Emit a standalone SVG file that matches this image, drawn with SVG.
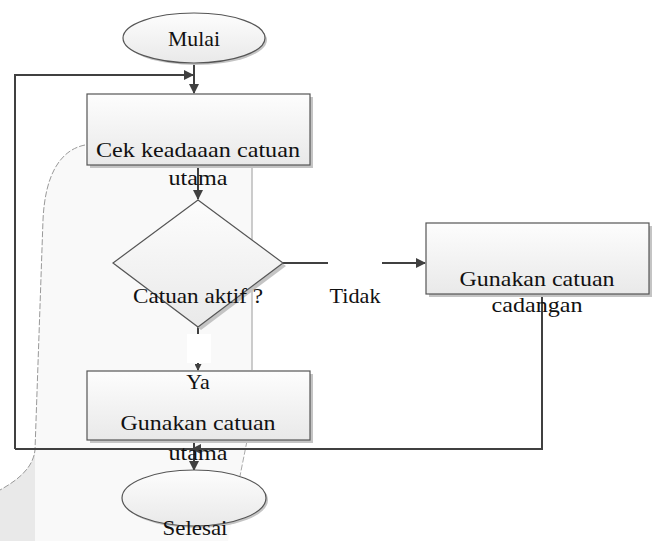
<svg xmlns="http://www.w3.org/2000/svg" width="659" height="541" viewBox="0 0 659 541">
<defs>
<linearGradient id="g" x1="0" y1="0" x2="0" y2="1"><stop offset="0" stop-color="#fdfdfd"/><stop offset="1" stop-color="#e9e9e9"/></linearGradient>
<marker id="a" markerWidth="10" markerHeight="10" refX="9" refY="5" orient="auto" markerUnits="userSpaceOnUse" viewBox="0 0 10 10"><path d="M0,0 L10,5 L0,10 Z" fill="#404040"/></marker>
<marker id="s" markerWidth="7" markerHeight="7" refX="6" refY="3.5" orient="auto" markerUnits="userSpaceOnUse" viewBox="0 0 7 7"><path d="M0,0 L7,3.5 L0,7 Z" fill="#404040"/></marker>
</defs>
<style>
.n{fill:url(#g);stroke:#555;stroke-width:1.2}
.sh{fill:#c4c4c4}
.c{fill:none;stroke:#404040;stroke-width:2}
.t{font-family:"Liberation Serif","Times New Roman",serif;font-size:22px;fill:#111;text-anchor:middle}
</style>
<g id="background">
<path d="M85,145 C60,150 45,175 43,220 L35,450 C33,468 18,480 0,490 L0,541 L228,541 L240,478 L247,440 L252,440 L252,165 L85,165 Z" fill="#f9f9f9"/>
<path d="M0,490 C18,480 33,468 35,450 L35,541 L0,541 Z" fill="#e9e9e9"/>
<path d="M85,145 C60,150 45,175 43,220 L35,450 C33,468 18,480 0,490" fill="none" stroke="#999" stroke-width="1" stroke-dasharray="6,2"/>
<path d="M252,165 L252,370" stroke="#bbb" stroke-width="1.5"/>
<path d="M247,441 L240,476" stroke="#aaa" stroke-width="1" stroke-dasharray="6,2"/>
</g>
<g id="connectors">
<line class="c" x1="194" y1="63" x2="194" y2="93" marker-end="url(#a)"/>
<polyline class="c" points="15,449 15,75 193,75" marker-end="url(#a)"/>
<line class="c" x1="198" y1="165" x2="198" y2="199" marker-end="url(#a)"/>
<line class="c" x1="283" y1="263" x2="328" y2="263"/>
<line class="c" x1="382" y1="263" x2="425" y2="263" marker-end="url(#a)"/>
<line class="c" x1="198" y1="327" x2="198" y2="370" stroke-width="1.5" marker-end="url(#s)"/>
<rect x="187" y="334" width="24" height="29" fill="#fff"/>
<polyline class="c" points="542,294 542,449 15,449"/>
<line class="c" x1="215" y1="449" x2="192" y2="449" marker-end="url(#a)"/>
<line class="c" x1="194" y1="440" x2="194" y2="470" marker-end="url(#a)"/>
</g>
<g id="mulai">
<ellipse cx="196" cy="40" rx="71" ry="25" class="sh"/>
<ellipse cx="194" cy="38" rx="71" ry="25" class="n"/>
<text class="t" x="194" y="46" textLength="52" lengthAdjust="spacingAndGlyphs">Mulai</text>
</g>
<g id="cek">
<rect x="90" y="97" width="223" height="71" class="sh"/>
<rect x="87" y="94" width="223" height="71" class="n"/>
<text class="t" x="198" y="157" textLength="204" lengthAdjust="spacingAndGlyphs">Cek keadaaan catuan</text>
<text class="t" x="198" y="185" textLength="59" lengthAdjust="spacingAndGlyphs">utama</text>
</g>
<g id="decision">
<polygon points="198,203 286,266 201,330 116,266" class="sh"/>
<polygon points="198,200 283,263 198,327 113,263" class="n" stroke-width="1"/>
<text class="t" x="198" y="303" textLength="130" lengthAdjust="spacingAndGlyphs">Catuan aktif ?</text>
<text class="t" x="355" y="303" textLength="51" lengthAdjust="spacingAndGlyphs">Tidak</text>
</g>
<g id="cadangan">
<rect x="429" y="226" width="223" height="71" class="sh"/>
<rect x="426" y="223" width="223" height="71" class="n"/>
<text class="t" x="537" y="286" textLength="155" lengthAdjust="spacingAndGlyphs">Gunakan  catuan</text>
<text class="t" x="537" y="312" textLength="91" lengthAdjust="spacingAndGlyphs">cadangan</text>
</g>
<g id="utama">
<rect x="90" y="374" width="223" height="69" class="sh"/>
<rect x="87" y="371" width="223" height="69" class="n"/>
<text class="t" x="198" y="389">Ya</text>
<text class="t" x="198" y="430" textLength="155" lengthAdjust="spacingAndGlyphs">Gunakan  catuan</text>
<text class="t" x="198" y="460" textLength="59" lengthAdjust="spacingAndGlyphs">utama</text>
</g>
<g id="selesai">
<ellipse cx="196" cy="500" rx="72" ry="28" class="sh"/>
<ellipse cx="194" cy="498" rx="72" ry="28" class="n"/>
<text class="t" x="195" y="535" textLength="65" lengthAdjust="spacingAndGlyphs">Selesai</text>
</g>
</svg>
